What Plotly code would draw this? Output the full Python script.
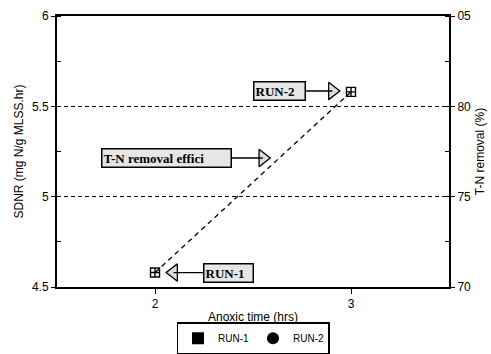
import plotly.graph_objects as go

# ---- data ----
anoxic_time = [2, 3]
sdnr = [4.58, 5.58]
run_names = ["RUN-1", "RUN-2"]
legend_symbols = ["square", "circle"]

x_ticks = [2, 3]
y_ticks = [4.5, 5, 5.5, 6]
y_ticklabels = ["4.5", "5", "5.5", "6"]
y2_ticks = [70, 75, 80, 85]
y2_ticklabels = ["70", "75", "80", "05"]

# callouts: label, arrow tip (data), box offset (px), triangle direction
callout_text = ["<b>RUN-2</b>", "<b>T-N removal effici</b>", "<b>RUN-1</b>"]
callout_x = [2.905, 2.55, 2.095]
callout_y = [5.585, 5.214, 4.58]
callout_ax = [-53, -96, 55]
callout_w = [48, 126, 46]
callout_sym = ["triangle-right", "triangle-right", "triangle-left"]

fig = go.Figure()

# dashed line through data points
fig.add_trace(go.Scatter(
    x=anoxic_time, y=sdnr, mode="lines",
    line=dict(color="black", width=1.3, dash="5px,4px"),
    showlegend=False, hoverinfo="skip"))

# data markers
fig.add_trace(go.Scatter(
    x=anoxic_time, y=sdnr, mode="markers",
    marker=dict(symbol="square-cross-open", size=9, color="black", line=dict(width=1.4)),
    showlegend=False))

# legend-only entries
for name, sym in zip(run_names, legend_symbols):
    fig.add_trace(go.Scatter(
        x=[None], y=[None], mode="markers", name=name,
        marker=dict(symbol=sym, size=8, color="black")))

# callout triangles
fig.add_trace(go.Scatter(
    x=callout_x, y=callout_y, mode="markers",
    marker=dict(symbol=callout_sym, size=15, color="#dcdcdc",
                line=dict(color="black", width=1.3)),
    showlegend=False, hoverinfo="skip"))

annotations = []
for t, x, y, ax, w in zip(callout_text, callout_x, callout_y, callout_ax, callout_w):
    annotations.append(dict(
        x=x, y=y, xref="x", yref="y", text=t, showarrow=True,
        ax=ax, ay=0, arrowhead=0, arrowwidth=1.3, arrowcolor="black",
        width=w, align="left",
        font=dict(family="Liberation Serif", size=13, color="black"),
        bgcolor="#e6e6e6", bordercolor="black", borderwidth=1.5, borderpad=1))

fig.update_layout(
    width=491, height=354,
    margin=dict(l=57, r=42, t=16, b=67, autoexpand=False),
    paper_bgcolor="white", plot_bgcolor="white",
    font=dict(family="Liberation Sans", size=11, color="black"),
    annotations=annotations,
    legend=dict(orientation="h", x=0.5, xanchor="center", y=-0.13, yanchor="top",
                bordercolor="black", borderwidth=1.5,
                font=dict(family="Liberation Sans", size=10, color="black"),
                itemwidth=30, tracegroupgap=0, itemsizing="constant",
                entrywidthmode="pixels", entrywidth=30),
    xaxis=dict(range=[1.5, 3.5], tickvals=x_ticks, ticks="outside", ticklen=5,
               tickcolor="black", showgrid=False, zeroline=False,
               showline=True, linecolor="black", linewidth=2, mirror=True,
               title=dict(text="Anoxic time (hrs)", font=dict(size=12), standoff=2),
               tickfont=dict(size=12)),
    yaxis=dict(range=[4.5, 6], tickvals=y_ticks, ticktext=y_ticklabels,
               ticks="outside", ticklen=4, tickcolor="black",
               minor=dict(dtick=0.25, ticks="inside", ticklen=4, tickcolor="black"),
               showgrid=True, gridcolor="black", griddash="4px,3px", gridwidth=1.2,
               zeroline=False, showline=True, linecolor="black", linewidth=2,
               title=dict(text="SDNR (mg N/g MLSS.hr)", font=dict(size=12), standoff=6),
               tickfont=dict(size=12)),
    yaxis2=dict(range=[70, 85], tickvals=y2_ticks, ticktext=y2_ticklabels,
                overlaying="y", side="right", ticks="outside", ticklen=4,
                tickcolor="black",
                minor=dict(dtick=2.5, ticks="inside", ticklen=4, tickcolor="black"),
                showgrid=False, zeroline=False, showline=True,
                linecolor="black", linewidth=2,
                title=dict(text="T-N removal (%)", font=dict(size=12), standoff=6),
                tickfont=dict(size=12)),
)

# invisible trace to activate the right axis
fig.add_trace(go.Scatter(x=[None], y=[None], yaxis="y2", showlegend=False))

fig.write_html("out.html")
